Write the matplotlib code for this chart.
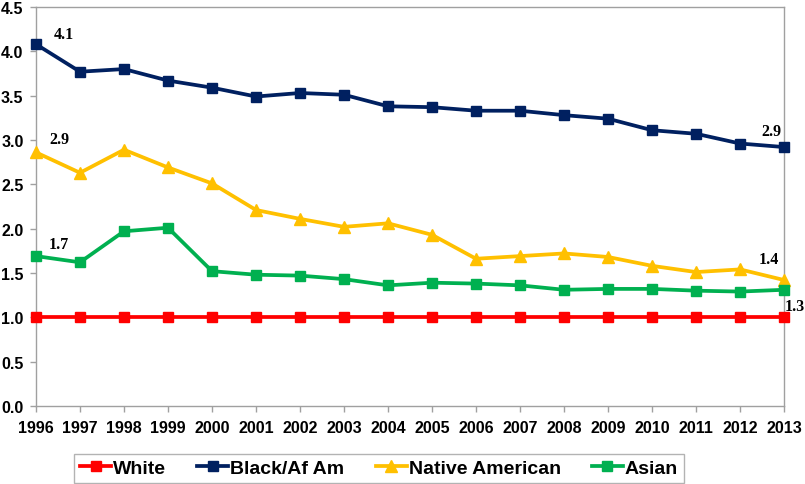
import matplotlib
matplotlib.use("Agg")
import matplotlib.pyplot as plt
from matplotlib.ticker import FormatStrFormatter

# --- Data ---
years = list(range(1996, 2014))
white = [1.0] * 18
black = [4.08, 3.77, 3.80, 3.67, 3.59, 3.49, 3.53, 3.51, 3.38,
         3.37, 3.33, 3.33, 3.28, 3.24, 3.11, 3.07, 2.96, 2.92]
native = [2.86, 2.63, 2.89, 2.69, 2.51, 2.21, 2.11, 2.02, 2.06,
          1.93, 1.66, 1.69, 1.72, 1.68, 1.58, 1.51, 1.54, 1.42]
asian = [1.69, 1.62, 1.97, 2.01, 1.52, 1.48, 1.47, 1.43, 1.36,
         1.39, 1.38, 1.36, 1.31, 1.32, 1.32, 1.30, 1.29, 1.31]
series_names = ["White", "Black/Af Am", "Native American", "Asian"]
y_ticks = [0.0, 0.5, 1.0, 1.5, 2.0, 2.5, 3.0, 3.5, 4.0, 4.5]

# --- Style ---
plt.rcParams['font.family'] = ['Liberation Sans', 'DejaVu Sans']
GRAY = '#A0A0A0'
styles = [
    dict(color='#FF0000', marker='s', ms=7.5),
    dict(color='#002060', marker='s', ms=7.5),
    dict(color='#FFC000', marker='^', ms=9),
    dict(color='#00B050', marker='s', ms=7.5),
]

fig = plt.figure(figsize=(8.05, 4.85), dpi=100)
ax = fig.add_axes([0.0447, 0.161, 0.9293, 0.8225])

handles = []
for vals, name, st in zip([white, black, native, asian], series_names, styles):
    h, = ax.plot(years, vals, color=st['color'], marker=st['marker'],
                 markersize=st['ms'], linewidth=2.7, clip_on=False,
                 label=name, zorder=3)
    handles.append(h)

ax.set_xlim(1996, 2013)
ax.set_ylim(0, 4.5)
ax.set_xticks(years)
ax.set_yticks(y_ticks)
ax.yaxis.set_major_formatter(FormatStrFormatter('%.1f'))

for s in ax.spines.values():
    s.set_color(GRAY)
    s.set_linewidth(1.0)
ax.tick_params(axis='both', colors=GRAY, labelcolor='black', labelsize=11.5,
               length=4, width=1.0)
ax.tick_params(axis='x', pad=6)
ax.tick_params(axis='y', pad=5)
for lbl in ax.get_xticklabels() + ax.get_yticklabels():
    lbl.set_fontweight('bold')

# end-point labels
serif = dict(family=['Liberation Serif', 'DejaVu Serif'], fontweight='bold',
             fontsize=11.5, ha='center', va='center')
notes = [
    (years[0], black[0], (28, 10)),
    (years[0], native[0], (23, 13)),
    (years[0], asian[0], (23, 12)),
    (years[-1], black[-1], (-13, 16)),
    (years[-1], native[-1], (-15, 21)),
    (years[-1], asian[-1], (11, -16)),
]
for x, v, off in notes:
    ax.annotate(f"{v:.1f}", xy=(x, v), xytext=off, textcoords='offset pixels',
                annotation_clip=False, **serif)

leg = fig.legend(handles=handles, loc='center', bbox_to_anchor=(0.471, 0.032),
                 ncol=4, fancybox=False, frameon=True, handlelength=1.6,
                 handletextpad=0.1, columnspacing=1.6, borderpad=0.3,
                 prop=dict(weight='bold', size=14))
leg.get_frame().set_edgecolor(GRAY)
leg.get_frame().set_linewidth(1.0)

fig.savefig("out.png", dpi=100)
